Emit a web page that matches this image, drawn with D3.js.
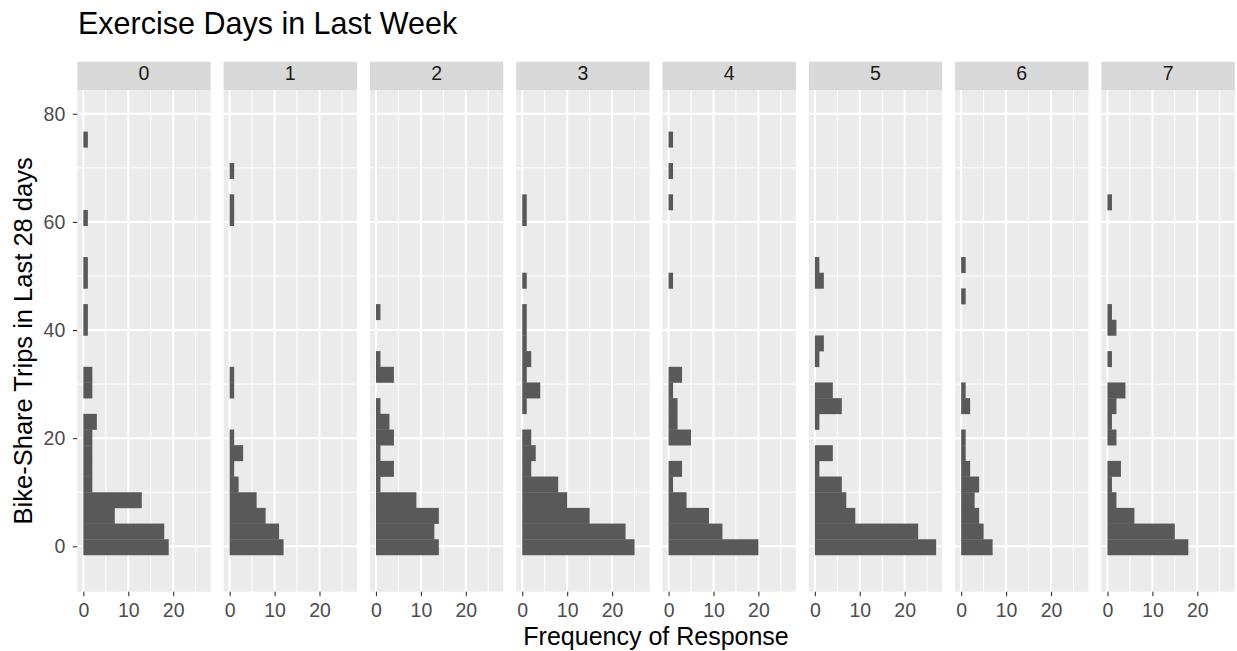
<!DOCTYPE html>
<html>
<head>
<meta charset="utf-8">
<script src="https://cdn.jsdelivr.net/npm/d3@7"></script>
<style>
  html, body { margin: 0; padding: 0; background: #ffffff; }
  svg { display: block; font-family: "Liberation Sans", Arial, Helvetica, sans-serif; }
</style>
</head>
<body>
<svg id="chart" width="1237" height="651"></svg>
<script>
// Facet labels: number of exercise days in the last week
const exerciseDays = ["0", "1", "2", "3", "4", "5", "6", "7"];

// Histogram bins of bike-share trips (shared by all facets)
const binOrigin = -1.6;
const binWidth = 2.9;

// Count of responses per bin (bin 0 is the lowest), one array per facet
const counts0 = [19, 18, 7, 13, 2, 2, 2, 2, 3, 0, 2, 2, 0, 0, 1, 1, 0, 1, 1, 0, 0, 1, 0, 0, 0, 0, 1];
const counts1 = [12, 11, 8, 6, 2, 1, 3, 1, 0, 0, 1, 1, 0, 0, 0, 0, 0, 0, 0, 0, 0, 1, 1, 0, 1];
const counts2 = [14, 13, 14, 9, 1, 4, 1, 4, 3, 1, 0, 4, 1, 0, 0, 1];
const counts3 = [25, 23, 15, 10, 8, 2, 3, 2, 0, 1, 4, 1, 2, 1, 1, 1, 0, 1, 0, 0, 0, 1, 1];
const counts4 = [20, 12, 9, 4, 1, 3, 0, 5, 2, 2, 1, 3, 0, 0, 0, 0, 0, 1, 0, 0, 0, 0, 1, 0, 1, 0, 1];
const counts5 = [27, 23, 9, 7, 6, 1, 4, 0, 1, 6, 4, 0, 1, 2, 0, 0, 0, 2, 1];
const counts6 = [7, 5, 4, 3, 4, 2, 1, 1, 0, 2, 1, 0, 0, 0, 0, 0, 1, 0, 1];
const counts7 = [18, 15, 6, 2, 1, 3, 0, 2, 1, 2, 4, 0, 1, 0, 2, 1, 0, 0, 0, 0, 0, 0, 1];
const facetCounts = [counts0, counts1, counts2, counts3, counts4, counts5, counts6, counts7];

// Axis ticks
const tripTicks = [0, 20, 40, 60, 80];
const tripMinor = [10, 30, 50, 70];
const countTicks = [0, 10, 20];
const countMinor = [5, 15, 25];
const tripLimits = [-8.4, 84.4];

// Text
const chartTitle = "Exercise Days in Last Week";
const xTitle = "Frequency of Response";
const yTitle = "Bike-Share Trips in Last 28 days";

// Layout
const panelLeft = 77.3, panelTop = 90, panelBottom = 591.7;
const panelW = 133.4, panelGap = 12.9, stripH = 28.3;

const svg = d3.select("#chart");

const maxCount = d3.max(facetCounts, c => d3.max(c));
const pad = maxCount * 0.05;
const x = d3.scaleLinear().domain([-pad, maxCount + pad]).range([0, panelW]);
const y = d3.scaleLinear().domain(tripLimits).range([panelBottom, panelTop]);

// Title
svg.append("text")
  .attr("x", 78).attr("y", 33.5)
  .attr("font-size", 30.5).attr("fill", "#000")
  .text(chartTitle);

exerciseDays.forEach((day, i) => {
  const px = panelLeft + i * (panelW + panelGap);
  const g = svg.append("g").attr("transform", `translate(${px},0)`);

  // strip
  g.append("rect").attr("x", 0).attr("y", panelTop - stripH)
    .attr("width", panelW).attr("height", stripH).attr("fill", "#D9D9D9");
  g.append("text").attr("x", panelW / 2).attr("y", panelTop - 10)
    .attr("text-anchor", "middle").attr("font-size", 19.5).attr("fill", "#1A1A1A")
    .text(day);

  // panel background
  g.append("rect").attr("x", 0).attr("y", panelTop)
    .attr("width", panelW).attr("height", panelBottom - panelTop).attr("fill", "#EBEBEB");

  // grid
  const grid = g.append("g");
  tripMinor.forEach(v => grid.append("line")
    .attr("x1", 0).attr("x2", panelW).attr("y1", y(v)).attr("y2", y(v))
    .attr("stroke", "#fff").attr("stroke-width", 1));
  countMinor.forEach(v => grid.append("line")
    .attr("x1", x(v)).attr("x2", x(v)).attr("y1", panelTop).attr("y2", panelBottom)
    .attr("stroke", "#fff").attr("stroke-width", 1));
  tripTicks.forEach(v => grid.append("line")
    .attr("x1", 0).attr("x2", panelW).attr("y1", y(v)).attr("y2", y(v))
    .attr("stroke", "#fff").attr("stroke-width", 2));
  countTicks.forEach(v => grid.append("line")
    .attr("x1", x(v)).attr("x2", x(v)).attr("y1", panelTop).attr("y2", panelBottom)
    .attr("stroke", "#fff").attr("stroke-width", 2));

  // histogram bars
  const bins = facetCounts[i].map((c, k) => ({
    lo: binOrigin + k * binWidth,
    hi: binOrigin + (k + 1) * binWidth,
    n: c
  })).filter(b => b.n > 0);
  g.append("g").selectAll("rect").data(bins).join("rect")
    .attr("x", x(0))
    .attr("y", b => y(b.hi))
    .attr("width", b => x(b.n) - x(0))
    .attr("height", b => y(b.lo) - y(b.hi) + 0.3)
    .attr("fill", "#595959");

  // bottom axis
  const xa = g.append("g").attr("transform", `translate(0,${panelBottom})`)
    .call(d3.axisBottom(x).tickValues(countTicks).tickSize(4.5).tickPadding(6.8).tickFormat(d3.format("d")));
  xa.select(".domain").remove();
  xa.selectAll("line").attr("stroke", "#333333").attr("stroke-width", 1.1);
  xa.selectAll("text").attr("font-size", 19.5).attr("fill", "#4D4D4D")
    .attr("font-family", "Liberation Sans, Arial, sans-serif");
});

// left axis
const ya = svg.append("g").attr("transform", `translate(${panelLeft},0)`)
  .call(d3.axisLeft(y).tickValues(tripTicks).tickSize(4.5).tickPadding(7.5).tickFormat(d3.format("d")));
ya.select(".domain").remove();
ya.selectAll("line").attr("stroke", "#333333").attr("stroke-width", 1.1);
ya.selectAll("text").attr("font-size", 19.5).attr("fill", "#4D4D4D")
  .attr("font-family", "Liberation Sans, Arial, sans-serif");

// axis titles
const panelsRight = panelLeft + exerciseDays.length * panelW + (exerciseDays.length - 1) * panelGap;
svg.append("text")
  .attr("x", (panelLeft + panelsRight) / 2).attr("y", 644.5)
  .attr("text-anchor", "middle").attr("font-size", 25).attr("fill", "#000")
  .text(xTitle);
svg.append("text")
  .attr("transform", `translate(31.5,${(panelTop + panelBottom) / 2}) rotate(-90)`)
  .attr("text-anchor", "middle").attr("font-size", 25.5).attr("fill", "#000")
  .text(yTitle);
</script>
</body>
</html>
